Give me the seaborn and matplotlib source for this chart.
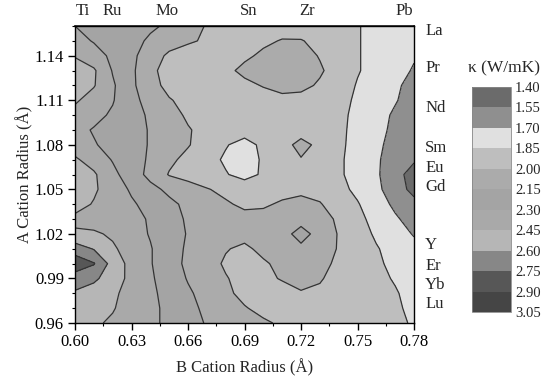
import matplotlib
matplotlib.use("Agg")
import matplotlib.pyplot as plt
import seaborn as sns
from matplotlib.colors import ListedColormap, BoundaryNorm
from matplotlib.ticker import MultipleLocator, FormatStrFormatter


# grid of the map (B site radius across, A site radius up)
B_RADIUS = [0.60, 0.61, 0.62, 0.63, 0.64, 0.65, 0.66, 0.67, 0.68, 0.69,
            0.70, 0.71, 0.72, 0.73, 0.74, 0.75, 0.76, 0.77, 0.78]
A_RADIUS = [0.96, 0.97, 0.98, 0.99, 1.00, 1.01, 1.02, 1.03, 1.04, 1.05, 1.06,
            1.07, 1.08, 1.09, 1.10, 1.11, 1.12, 1.13, 1.14, 1.15, 1.16]

# thermal conductivity (W/mK), one row per A radius, bottom row first
KAPPA = [
    [2.50, 2.47, 2.43, 2.38, 2.33, 2.27, 2.20, 2.14, 2.10, 2.06, 2.02, 1.98, 1.95, 1.93, 1.92, 1.90, 1.88, 1.87, 1.84],
    [2.52, 2.49, 2.46, 2.39, 2.33, 2.27, 2.19, 2.12, 2.06, 2.01, 1.96, 1.94, 1.93, 1.93, 1.93, 1.91, 1.89, 1.87, 1.82],
    [2.58, 2.53, 2.47, 2.41, 2.33, 2.25, 2.17, 2.10, 2.03, 1.96, 1.95, 1.95, 1.99, 1.98, 1.96, 1.93, 1.89, 1.86, 1.81],
    [2.68, 2.63, 2.52, 2.41, 2.32, 2.23, 2.14, 2.07, 2.01, 1.95, 1.97, 2.01, 2.04, 2.01, 1.96, 1.93, 1.88, 1.84, 1.80],
    [2.84, 2.76, 2.54, 2.40, 2.31, 2.21, 2.12, 2.06, 1.98, 1.95, 1.98, 2.04, 2.06, 2.03, 1.98, 1.93, 1.87, 1.82, 1.78],
    [2.68, 2.59, 2.47, 2.39, 2.31, 2.21, 2.13, 2.07, 2.01, 1.97, 2.04, 2.08, 2.12, 2.07, 1.99, 1.92, 1.86, 1.80, 1.74],
    [2.47, 2.47, 2.43, 2.36, 2.29, 2.22, 2.14, 2.10, 2.06, 2.05, 2.06, 2.10, 2.20, 2.10, 1.99, 1.91, 1.83, 1.76, 1.69],
    [2.42, 2.39, 2.36, 2.33, 2.29, 2.21, 2.13, 2.10, 2.07, 2.05, 2.05, 2.07, 2.10, 2.05, 1.98, 1.89, 1.80, 1.72, 1.64],
    [2.50, 2.44, 2.38, 2.32, 2.25, 2.18, 2.12, 2.07, 2.02, 1.97, 1.98, 2.02, 2.04, 2.01, 1.93, 1.86, 1.77, 1.67, 1.60],
    [2.52, 2.47, 2.38, 2.28, 2.19, 2.12, 2.06, 2.01, 1.96, 1.94, 1.93, 1.95, 1.97, 1.95, 1.89, 1.82, 1.73, 1.63, 1.50],
    [2.52, 2.47, 2.34, 2.22, 2.11, 1.99, 1.95, 1.90, 1.86, 1.80, 1.87, 1.92, 1.94, 1.93, 1.87, 1.80, 1.72, 1.61, 1.48],
    [2.47, 2.39, 2.29, 2.21, 2.13, 2.03, 1.96, 1.90, 1.83, 1.78, 1.87, 1.93, 1.99, 1.95, 1.87, 1.80, 1.72, 1.63, 1.57],
    [2.38, 2.31, 2.26, 2.20, 2.14, 2.08, 2.01, 1.93, 1.86, 1.80, 1.88, 1.94, 2.05, 1.96, 1.88, 1.80, 1.73, 1.65, 1.59],
    [2.34, 2.29, 2.24, 2.20, 2.14, 2.08, 2.01, 1.96, 1.93, 1.91, 1.91, 1.92, 1.93, 1.92, 1.88, 1.81, 1.74, 1.67, 1.60],
    [2.40, 2.34, 2.28, 2.20, 2.13, 2.05, 1.98, 1.95, 1.93, 1.92, 1.92, 1.93, 1.93, 1.92, 1.88, 1.82, 1.75, 1.68, 1.62],
    [2.47, 2.39, 2.31, 2.19, 2.10, 2.01, 1.96, 1.93, 1.92, 1.92, 1.93, 1.95, 1.95, 1.93, 1.87, 1.84, 1.77, 1.71, 1.64],
    [2.52, 2.46, 2.32, 2.18, 2.05, 1.96, 1.92, 1.91, 1.92, 1.96, 2.01, 2.06, 2.04, 1.98, 1.92, 1.84, 1.78, 1.72, 1.66],
    [2.52, 2.47, 2.29, 2.18, 2.03, 1.95, 1.92, 1.92, 1.96, 2.04, 2.08, 2.10, 2.09, 2.02, 1.93, 1.86, 1.80, 1.74, 1.69],
    [2.44, 2.36, 2.27, 2.18, 2.08, 1.97, 1.93, 1.92, 1.93, 1.97, 2.03, 2.06, 2.06, 1.99, 1.93, 1.86, 1.80, 1.77, 1.71],
    [2.35, 2.29, 2.24, 2.19, 2.13, 2.07, 2.02, 1.98, 1.96, 1.95, 1.97, 2.01, 2.01, 1.95, 1.91, 1.86, 1.80, 1.78, 1.76],
    [2.30, 2.27, 2.24, 2.20, 2.17, 2.13, 2.06, 1.99, 1.98, 1.96, 1.94, 1.93, 1.91, 1.89, 1.87, 1.86, 1.80, 1.78, 1.76],
]

LEVELS = [1.40, 1.55, 1.70, 1.85, 2.00, 2.15, 2.30, 2.45, 2.60, 2.75, 2.90, 3.05]
BAND_GRAYS = ["#6b6b6b", "#8f8f8f", "#e0e0e0", "#bebebe", "#ababab", "#a4a4a4",
              "#a9a9a9", "#b6b6b6", "#878787", "#575757", "#454545"]

B_IONS = ["Ti", "Ru", "Mo", "Sn", "Zr", "Pb"]
B_ION_RADIUS = [0.604, 0.620, 0.649, 0.692, 0.723, 0.775]
A_IONS = ["La", "Pr", "Nd", "Sm", "Eu", "Gd", "Y", "Er", "Yb", "Lu"]
A_ION_RADIUS = [1.158, 1.133, 1.106, 1.079, 1.066, 1.053, 1.014, 1.000, 0.987, 0.974]

X_TICKS = [0.60, 0.63, 0.66, 0.69, 0.72, 0.75, 0.78]
Y_TICKS = [0.96, 0.99, 1.02, 1.05, 1.08, 1.11, 1.14]


def main() -> None:
    sns.set_theme(style="ticks")
    plt.rcParams["font.family"] = ["Liberation Serif", "DejaVu Serif"]

    fig = plt.figure(figsize=(5.44, 3.81), dpi=100)
    fig.patch.set_facecolor("white")
    ax = fig.add_axes([0.1379, 0.1522, 0.6232, 0.7795])

    cmap = ListedColormap(BAND_GRAYS)
    norm = BoundaryNorm(LEVELS, cmap.N)
    cf = ax.contourf(B_RADIUS, A_RADIUS, KAPPA, levels=LEVELS, cmap=cmap, norm=norm)
    ax.contour(B_RADIUS, A_RADIUS, KAPPA, levels=LEVELS, colors="#333333", linewidths=0.9)

    ax.set_xlim(0.60, 0.78)
    ax.set_ylim(0.96, 1.16)
    ax.set_xticks(X_TICKS)
    ax.set_yticks(Y_TICKS)
    ax.xaxis.set_major_formatter(FormatStrFormatter("%.2f"))
    ax.yaxis.set_major_formatter(FormatStrFormatter("%.2f"))
    ax.xaxis.set_minor_locator(MultipleLocator(0.015))
    ax.yaxis.set_minor_locator(MultipleLocator(0.01))
    ax.tick_params(which="major", direction="out", length=5, width=1,
                   labelsize=12, colors="black", pad=3)
    ax.tick_params(which="minor", direction="out", length=2.5, width=0.8, colors="black")
    ax.set_xlabel("B Cation Radius (Å)", fontsize=12, labelpad=6)
    ax.set_ylabel("A Cation Radius (Å)", fontsize=12, labelpad=1)
    for spine in ax.spines.values():
        spine.set_visible(True)
        spine.set_color("black")
        spine.set_linewidth(1.0)

    # ion names along the top and right edges
    top = ax.secondary_xaxis("top")
    top.set_xticks(B_ION_RADIUS, B_IONS)
    top.tick_params(length=0, labelsize=12, pad=5)
    right = ax.secondary_yaxis("right")
    right.set_yticks(A_ION_RADIUS, A_IONS)
    right.tick_params(length=0, labelsize=12, pad=8)

    # colour key
    cax = fig.add_axes([0.8676, 0.1811, 0.0717, 0.5906])
    cb = fig.colorbar(cf, cax=cax, ticks=LEVELS)
    cax.invert_yaxis()
    cb.ax.yaxis.set_major_formatter(FormatStrFormatter("%.2f"))
    cb.ax.tick_params(length=0, labelsize=10.5, pad=3)
    cb.outline.set_linewidth(0.6)
    cb.outline.set_edgecolor("#888888")
    fig.text(0.926, 0.8215, "κ (W/mK)", ha="center", va="center", fontsize=12.5)

    fig.savefig("out.png", dpi=100)


if __name__ == "__main__":
    main()
